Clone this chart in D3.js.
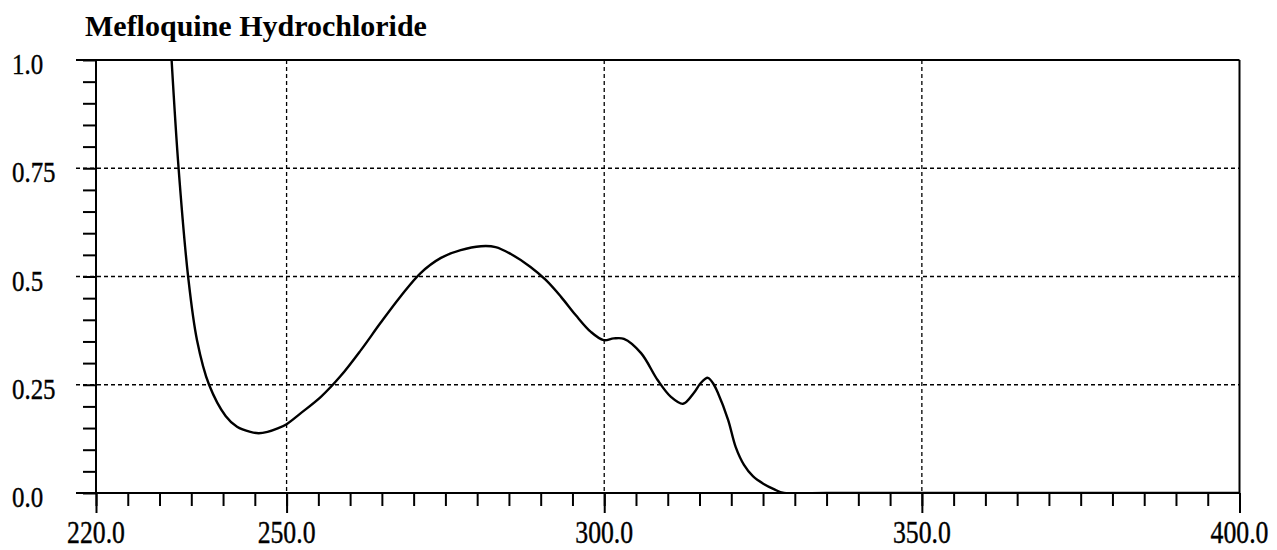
<!DOCTYPE html>
<html>
<head>
<meta charset="utf-8">
<script src="https://cdn.jsdelivr.net/npm/d3@7"></script>
<style>
  body { margin: 0; background: #fff; }
  svg text { font-family: "Liberation Serif", "Times New Roman", serif; fill: #000; }
  .lab { stroke: #000; stroke-width: 0.4; }
  .grid line { stroke: #000; stroke-width: 1.3; stroke-dasharray: 4,3; }
  .axis path, .axis line { stroke: #000; stroke-width: 2; }
</style>
</head>
<body>
<div class="chart"></div>
<script>
// spectrum: wavelength (nm) and absorbance
var wavelength = [231.9, 233.0, 234.5, 235.9, 237.8, 240.4, 242.2, 244.3,
	245.6, 247.0, 248.6, 250.0, 252.2, 255.4, 258.5, 261.7, 264.8, 268.0, 271.1,
	274.3, 277.4, 280.6, 282.9, 285.3, 288.4, 290.8, 293.2, 295.5, 297.9,
	299.9, 301.5, 303.1, 305.8, 308.4, 310.5, 312.4, 314.1, 315.2,
	316.3, 317.1, 317.9, 319.5, 320.7, 322.0, 323.4, 325.1, 326.7, 328.3,
	335.0, 400.0];
var absorbance = [1.0, 0.75, 0.50, 0.353, 0.25, 0.178, 0.153, 0.141,
	0.138, 0.141, 0.149, 0.159, 0.184, 0.222, 0.270, 0.330, 0.393, 0.455, 0.508,
	0.543, 0.561, 0.570, 0.568, 0.552, 0.522, 0.492, 0.453, 0.411, 0.372,
	0.353, 0.357, 0.356, 0.323, 0.261, 0.222, 0.206, 0.231, 0.254,
	0.266, 0.254, 0.231, 0.169, 0.106, 0.065, 0.039, 0.021, 0.009, 0.0,
	0.0, 0.0];

var xMajor = [220, 250, 300, 350, 400];
var xLabels = ['220.0', '250.0', '300.0', '350.0', '400.0'];
var yMajor = [0, 0.25, 0.5, 0.75, 1.0];
var yLabels = ['0.0', '0.25', '0.5', '0.75', '1.0'];
var title = 'Mefloquine Hydrochloride';

var margin = {top: 60, left: 96};
var width = 1143.5;
var height = 433;

var svg = d3.select('.chart')
	.append('svg')
	.attr('width', 1277)
	.attr('height', 550);

svg.append('text')
	.attr('x', 85)
	.attr('y', 36)
	.style('font-size', '30px')
	.style('font-weight', 'bold')
	.text(title);

var g = svg.append('g')
	.attr('transform', 'translate(' + margin.left + ',' + margin.top + ')');

var xScale = d3.scaleLinear().domain([220, 400]).range([0, width]);
var yScale = d3.scaleLinear().domain([0, 1]).range([height, 0]);

// dashed grid, horizontal lines stick out left of the axis
g.append('g').attr('class', 'grid')
	.selectAll('line')
	.data(yMajor.filter(function(d) { return d > 0 && d < 1; }))
	.enter().append('line')
	.attr('x1', -20).attr('x2', width)
	.attr('y1', function(d) { return yScale(d); })
	.attr('y2', function(d) { return yScale(d); });

g.append('g').attr('class', 'grid')
	.selectAll('line')
	.data(xMajor.filter(function(d) { return d > 220 && d < 400; }))
	.enter().append('line')
	.attr('y1', 0).attr('y2', height)
	.attr('x1', function(d) { return xScale(d); })
	.attr('x2', function(d) { return xScale(d); });

// minor ticks
var xMinor = d3.range(220, 400.1, 5);
g.append('g').attr('class', 'axis')
	.attr('transform', 'translate(0,' + height + ')')
	.call(d3.axisBottom(xScale).tickValues(xMinor).tickSize(13).tickSizeOuter(0).tickFormat(''))
	.select('.domain').remove();

g.append('g').attr('class', 'axis')
	.attr('transform', 'translate(0,' + height + ')')
	.call(d3.axisBottom(xScale).tickValues(xMajor).tickSize(20).tickSizeOuter(0).tickFormat(''))
	.select('.domain').remove();

var yMinor = d3.range(0, 1.001, 0.05);
g.append('g').attr('class', 'axis')
	.call(d3.axisLeft(yScale).tickValues(yMinor).tickSize(13).tickSizeOuter(0).tickFormat(''))
	.select('.domain').remove();

// frame
var frame = g.append('g').attr('class', 'axis');
frame.append('line').attr('x1', -20).attr('x2', width).attr('y1', 0).attr('y2', 0);
frame.append('line').attr('x1', -20).attr('x2', width).attr('y1', height).attr('y2', height);
frame.append('line').attr('x1', 0).attr('x2', 0).attr('y1', 0).attr('y2', height);
frame.append('line').attr('x1', width).attr('x2', width).attr('y1', 0).attr('y2', height);

// labels (the original font is narrower and taller than Liberation Serif)
g.selectAll('.xlab')
	.data(xMajor)
	.enter().append('text')
	.attr('class', 'lab')
	.attr('transform', function(d) {
		return 'translate(' + xScale(d) + ',' + (height + 50) + ') scale(0.83,1)';
	})
	.attr('text-anchor', 'middle')
	.style('font-size', '31px')
	.text(function(d, i) { return xLabels[i]; });

svg.selectAll('.ylab')
	.data(yMajor)
	.enter().append('text')
	.attr('class', 'lab')
	.attr('transform', function(d) {
		return 'translate(12,' + (margin.top + yScale(d) + 14) + ') scale(0.83,1)';
	})
	.style('font-size', '30px')
	.text(function(d, i) { return yLabels[i]; });

// spectrum
g.append('clipPath').attr('id', 'plotclip')
	.append('rect').attr('width', width).attr('height', height);

var line = d3.line()
	.x(function(d) { return xScale(wavelength[d]); })
	.y(function(d) { return yScale(absorbance[d]); })
	.curve(d3.curveCatmullRom);

g.append('path')
	.attr('clip-path', 'url(#plotclip)')
	.attr('d', line(d3.range(wavelength.length)))
	.style('fill', 'none')
	.style('stroke', '#000')
	.style('stroke-width', 2.4);
</script>
</body>
</html>
